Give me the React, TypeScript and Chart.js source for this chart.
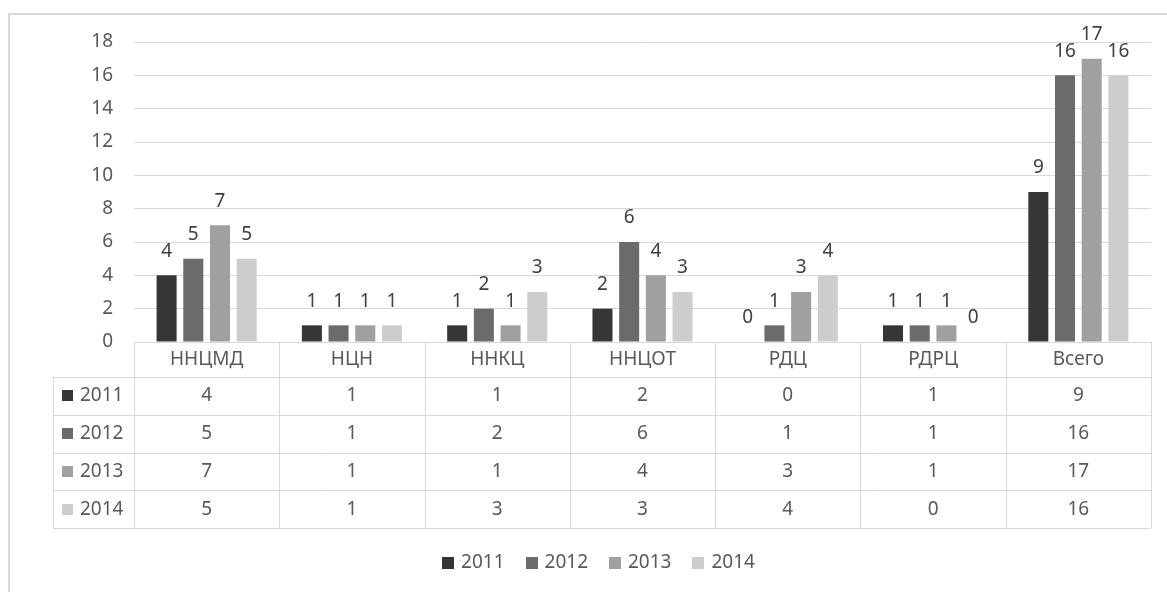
import React, { useEffect, useRef } from "react";
import { Chart, registerables } from "chart.js";

Chart.register(...registerables);

// Centres and the summary column
const categories = ["ННЦМД", "НЦН", "ННКЦ", "ННЦОТ", "РДЦ", "РДРЦ", "Всего"];
const years = ["2011", "2012", "2013", "2014"];
const values2011 = [4, 1, 1, 2, 0, 1, 9];
const values2012 = [5, 1, 2, 6, 1, 1, 16];
const values2013 = [7, 1, 1, 4, 3, 1, 17];
const values2014 = [5, 1, 3, 3, 4, 0, 16];
const yMin = 0;
const yMax = 18;
const yStep = 2;

const seriesValues = [values2011, values2012, values2013, values2014];
const seriesColors = ["#363636", "#6b6b6b", "#a0a0a0", "#cdcdcd"];

const FONT = '"Noto Sans", "DejaVu Sans", sans-serif';
const FONT_SIZE = 19;
const GRID = "#d9d9d9";
const TEXT = "#595959";
const LABEL = "#404040";

const W = 1167;
const H = 592;

// Thin frame around the whole chart object
const framePlugin = {
  id: "frame",
  beforeDraw(chart: any) {
    const { ctx } = chart;
    ctx.save();
    ctx.strokeStyle = GRID;
    ctx.lineWidth = 2;
    ctx.beginPath();
    ctx.moveTo(9, H);
    ctx.lineTo(9, 14);
    ctx.lineTo(W, 14);
    ctx.stroke();
    ctx.restore();
  },
};

// Value labels above each bar
const barLabelPlugin = {
  id: "barLabels",
  afterDatasetsDraw(chart: any) {
    const { ctx } = chart;
    ctx.save();
    ctx.font = `${FONT_SIZE}px ${FONT}`;
    ctx.fillStyle = LABEL;
    ctx.textAlign = "center";
    ctx.textBaseline = "middle";
    chart.data.datasets.forEach((ds: any, di: number) => {
      const meta = chart.getDatasetMeta(di);
      meta.data.forEach((el: any, i: number) => {
        ctx.fillText(String(ds.data[i]), el.x, el.y - 24);
      });
    });
    ctx.restore();
  },
};

// Data table under the plot, with the category names as its header row
const dataTablePlugin = {
  id: "dataTable",
  afterDraw(chart: any) {
    const { ctx, chartArea, scales } = chart;
    const xs = scales.x;
    const left = chartArea.left;
    const right = chartArea.right;
    const top = chartArea.bottom;
    const headerH = 35;
    const rowH = 37.75;
    const keyLeft = 53;
    const rows = chart.data.datasets.length;
    const bottom = top + headerH + rows * rowH;
    const step = (right - left) / categories.length;

    const line = (x1: number, y1: number, x2: number, y2: number) => {
      ctx.beginPath();
      ctx.moveTo(x1, y1);
      ctx.lineTo(x2, y2);
      ctx.stroke();
    };

    ctx.save();
    ctx.strokeStyle = GRID;
    ctx.lineWidth = 1;
    line(left, Math.round(top) + 0.5, right, Math.round(top) + 0.5);
    for (let r = 0; r <= rows; r++) {
      const y = Math.round(top + headerH + r * rowH) + 0.5;
      line(keyLeft, y, right, y);
    }
    for (let i = 0; i <= categories.length; i++) {
      const x = Math.round(left + i * step) + 0.5;
      line(x, top, x, bottom);
    }
    line(keyLeft + 0.5, top + headerH, keyLeft + 0.5, bottom);

    ctx.font = `${FONT_SIZE}px ${FONT}`;
    ctx.fillStyle = TEXT;
    ctx.textBaseline = "middle";
    ctx.textAlign = "center";
    categories.forEach((c, i) => {
      ctx.fillText(c, xs.getPixelForValue(i), top + headerH / 2);
    });

    chart.data.datasets.forEach((ds: any, r: number) => {
      const cy = top + headerH + r * rowH + rowH / 2;
      ctx.fillStyle = ds.backgroundColor;
      ctx.fillRect(62, Math.round(cy - 5.5), 11, 11);
      ctx.fillStyle = TEXT;
      ctx.textAlign = "left";
      ctx.fillText(ds.label, 80, cy);
      ctx.textAlign = "center";
      ds.data.forEach((v: number, i: number) => {
        ctx.fillText(String(v), xs.getPixelForValue(i), cy);
      });
    });
    ctx.restore();
  },
};

// Legend row at the bottom
const legendPlugin = {
  id: "bottomLegend",
  afterDraw(chart: any) {
    const { ctx } = chart;
    const box = 12;
    const boxGap = 7;
    const itemGap = 21;
    const centerX = 598.5;
    const cy = 562.5;
    ctx.save();
    ctx.font = `${FONT_SIZE}px ${FONT}`;
    const items = chart.data.datasets.map((ds: any) => ({
      label: ds.label,
      color: ds.backgroundColor,
      w: ctx.measureText(ds.label).width,
    }));
    const total =
      items.reduce((s: number, it: any) => s + box + boxGap + it.w, 0) +
      itemGap * (items.length - 1);
    let x = centerX - total / 2;
    ctx.textBaseline = "middle";
    ctx.textAlign = "left";
    items.forEach((it: any) => {
      ctx.fillStyle = it.color;
      ctx.fillRect(Math.round(x), Math.round(cy - box / 2), box, box);
      x += box + boxGap;
      ctx.fillStyle = TEXT;
      ctx.fillText(it.label, x, cy);
      x += it.w + itemGap;
    });
    ctx.restore();
  },
};

export default function App() {
  const canvasRef = useRef<HTMLCanvasElement | null>(null);

  useEffect(() => {
    const canvas = canvasRef.current;
    if (!canvas) return;
    const chart = new Chart(canvas, {
      type: "bar",
      data: {
        labels: categories,
        datasets: years.map((y, i) => ({
          label: y,
          data: seriesValues[i],
          backgroundColor: seriesColors[i],
          borderWidth: 0,
          categoryPercentage: 0.735,
          barPercentage: 0.75,
        })),
      },
      options: {
        responsive: false,
        animation: false,
        devicePixelRatio: 1,
        layout: { padding: { left: 0, top: 42, right: 16, bottom: 250 } },
        plugins: {
          legend: { display: false },
          tooltip: { enabled: false },
        },
        scales: {
          x: { display: false },
          y: {
            min: yMin,
            max: yMax,
            afterFit: (scale: any) => {
              scale.width = 134;
            },
            border: { display: false },
            grid: { color: GRID, lineWidth: 1, drawTicks: false },
            ticks: {
              stepSize: yStep,
              padding: 21,
              color: TEXT,
              font: { family: FONT, size: FONT_SIZE },
            },
          },
        },
      },
      plugins: [framePlugin, barLabelPlugin, dataTablePlugin, legendPlugin],
    });
    return () => chart.destroy();
  }, []);

  return (
    <div
      style={{
        position: "fixed",
        left: 0,
        top: 0,
        width: W,
        height: H,
        background: "#ffffff",
      }}
    >
      <canvas ref={canvasRef} width={W} height={H} />
    </div>
  );
}
